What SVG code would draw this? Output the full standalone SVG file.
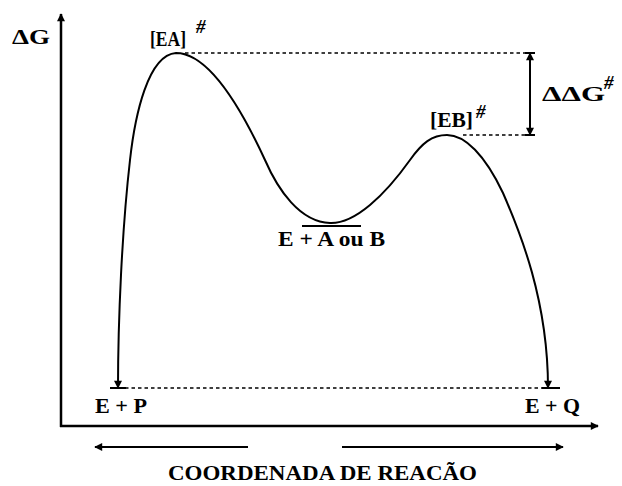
<svg xmlns="http://www.w3.org/2000/svg" width="622" height="486" viewBox="0 0 622 486">
<style>
  .ln{fill:none;stroke:#000;stroke-width:2}
  .ax{fill:none;stroke:#000;stroke-width:2.5}
  .dot{fill:none;stroke:#000;stroke-width:1.6;stroke-dasharray:3.5 3}
  text{font-family:"Liberation Serif","DejaVu Serif",serif;font-weight:bold;fill:#000}
  .sup{font-style:italic;font-size:19px}
</style>
<defs>
  <marker id="ah" viewBox="0 0 10 10" refX="9" refY="5" markerWidth="9" markerHeight="8" markerUnits="userSpaceOnUse" orient="auto-start-reverse">
    <path d="M0,0 L10,5 L0,10 Z" fill="#000"/>
  </marker>
</defs>
<rect width="622" height="486" fill="#fff"/>
<g id="axes">
  <line class="ax" x1="61" y1="427" x2="61" y2="14" marker-end="url(#ah)"/>
  <line class="ax" x1="60" y1="426" x2="598" y2="426" marker-end="url(#ah)"/>
</g>
<g id="connectors">
  <line class="dot" x1="185" y1="53" x2="530" y2="53"/>
  <line class="dot" x1="463" y1="135" x2="530" y2="135"/>
  <line class="dot" x1="125" y1="388" x2="543" y2="388"/>
  <line class="ln" x1="530" y1="53" x2="530" y2="135" marker-start="url(#ah)" marker-end="url(#ah)"/>
  <line class="ln" x1="525" y1="53" x2="535" y2="53"/>
  <line class="ln" x1="525" y1="135" x2="535" y2="135"/>
  <line class="ln" x1="110" y1="388" x2="126" y2="388"/>
  <line class="ln" x1="542" y1="388" x2="560" y2="388"/>
  <line class="ln" x1="302" y1="226" x2="361" y2="226"/>
  <line class="ln" x1="248" y1="447" x2="95" y2="447" marker-end="url(#ah)"/>
  <line class="ln" x1="342" y1="447" x2="563" y2="447" marker-end="url(#ah)"/>
</g>
<g id="curve">
  <path class="ln" marker-start="url(#ah)" marker-end="url(#ah)" d="M118,388 C118,320 122,230 130,160 C135,115 148,55 176,53 C205,53 235,95 265,160 C278,190 300,222 330,223 C355,224 385,195 410,160 C422,143 432,135 447,135 C465,135 485,155 503,193 C520,232 548,300 548,388"/>
</g>
<g id="label-dG">
  <text x="12" y="44" font-size="21" textLength="38" lengthAdjust="spacingAndGlyphs">ΔG</text>
</g>
<g id="label-EA">
  <text x="150" y="46" font-size="21" textLength="36" lengthAdjust="spacingAndGlyphs">[EA]</text>
  <text class="sup" x="196" y="33">#</text>
</g>
<g id="label-EB">
  <text x="430" y="127" font-size="21" textLength="43" lengthAdjust="spacingAndGlyphs">[EB]</text>
  <text class="sup" x="476" y="118">#</text>
</g>
<g id="label-ddG">
  <text x="542" y="101" font-size="22" textLength="63" lengthAdjust="spacingAndGlyphs">ΔΔG</text>
  <text class="sup" x="604" y="89">#</text>
</g>
<g id="label-EAB">
  <text x="278" y="246" font-size="20" textLength="107" lengthAdjust="spacingAndGlyphs">E + A ou B</text>
</g>
<g id="label-EP">
  <text x="95" y="413" font-size="21" textLength="52" lengthAdjust="spacingAndGlyphs">E + P</text>
</g>
<g id="label-EQ">
  <text x="525" y="413" font-size="21" textLength="55" lengthAdjust="spacingAndGlyphs">E + Q</text>
</g>
<g id="title">
  <text x="168" y="480" font-size="20" textLength="309" lengthAdjust="spacingAndGlyphs">COORDENADA DE REACÃO</text>
</g>
</svg>
